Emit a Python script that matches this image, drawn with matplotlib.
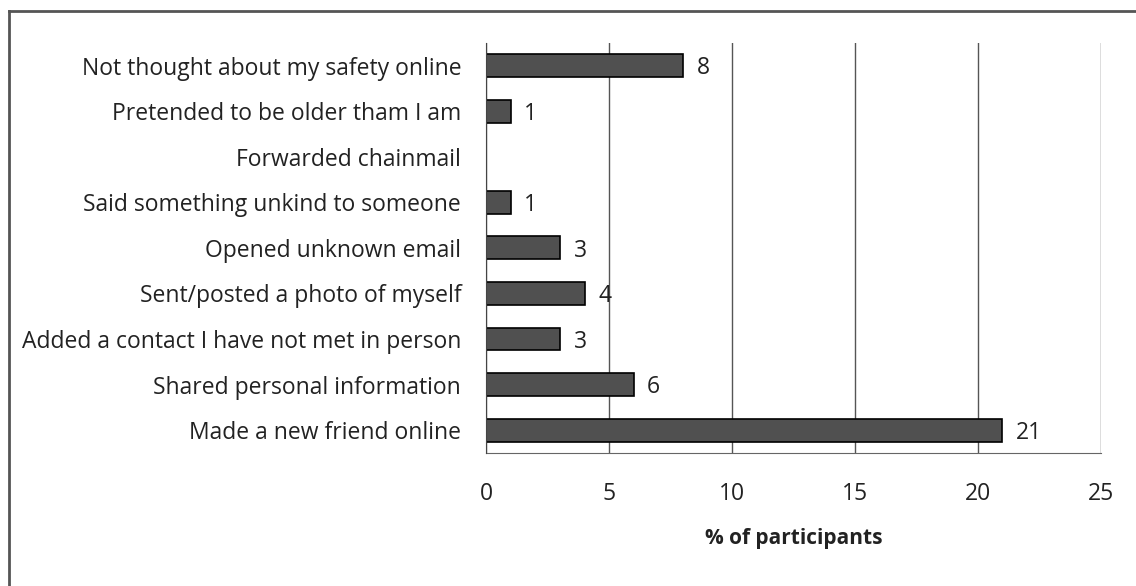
import matplotlib.pyplot as plt
from matplotlib.lines import Line2D

categories = [
    "Not thought about my safety online",
    "Pretended to be older tham I am",
    "Forwarded chainmail",
    "Said something unkind to someone",
    "Opened unknown email",
    "Sent/posted a photo of myself",
    "Added a contact I have not met in person",
    "Shared personal information",
    "Made a new friend online",
]
values = [8, 1, None, 1, 3, 4, 3, 6, 21]
xticks = [0, 5, 10, 15, 20, 25]

plt.rcParams['font.family'] = ['Open Sans', 'DejaVu Sans']
fs = 16.5

fig = plt.figure(figsize=(11.36, 5.86), dpi=100)
ax = fig.add_axes([0.428, 0.227, 0.541, 0.700])

ypos = list(range(len(categories)))
for y, v in zip(ypos, values):
    if v is None:
        continue
    ax.barh(y, v, height=0.5, color='#505050', edgecolor='black', linewidth=1.2, zorder=3)
    ax.text(v + 0.55, y + 0.06, str(v), va='center', ha='left', fontsize=fs, color='#222222')

ax.set_yticks(ypos)
ax.set_yticklabels(categories, fontsize=fs, color='#222222')
ax.set_ylim(len(categories) - 0.5, -0.5)
ax.set_xlim(0, 25)
ax.set_xticks(xticks)
ax.set_xticklabels([str(t) for t in xticks], fontsize=fs, color='#222222')
ax.tick_params(length=0)
ax.tick_params(axis='x', pad=21)
ax.tick_params(axis='y', pad=18)

ax.grid(axis='x', color='#555555', linewidth=1.0, zorder=0)
ax.grid(axis='y', visible=False)
ax.spines['top'].set_visible(False)
ax.spines['right'].set_visible(False)
ax.spines['left'].set_color('#444444')
ax.spines['bottom'].set_color('#666666')
ax.spines['left'].set_zorder(4)

ax.set_xlabel('% of participants', fontsize=fs - 1.5, fontweight='bold', labelpad=16, color='#222222')

# outer frame (left and top edges visible in the original)
fig.add_artist(Line2D([0.008, 0.008], [0.0, 0.981], transform=fig.transFigure, color='#555555', linewidth=2))
fig.add_artist(Line2D([0.008, 1.0], [0.981, 0.981], transform=fig.transFigure, color='#555555', linewidth=2))

fig.savefig('out.png', dpi=100)
